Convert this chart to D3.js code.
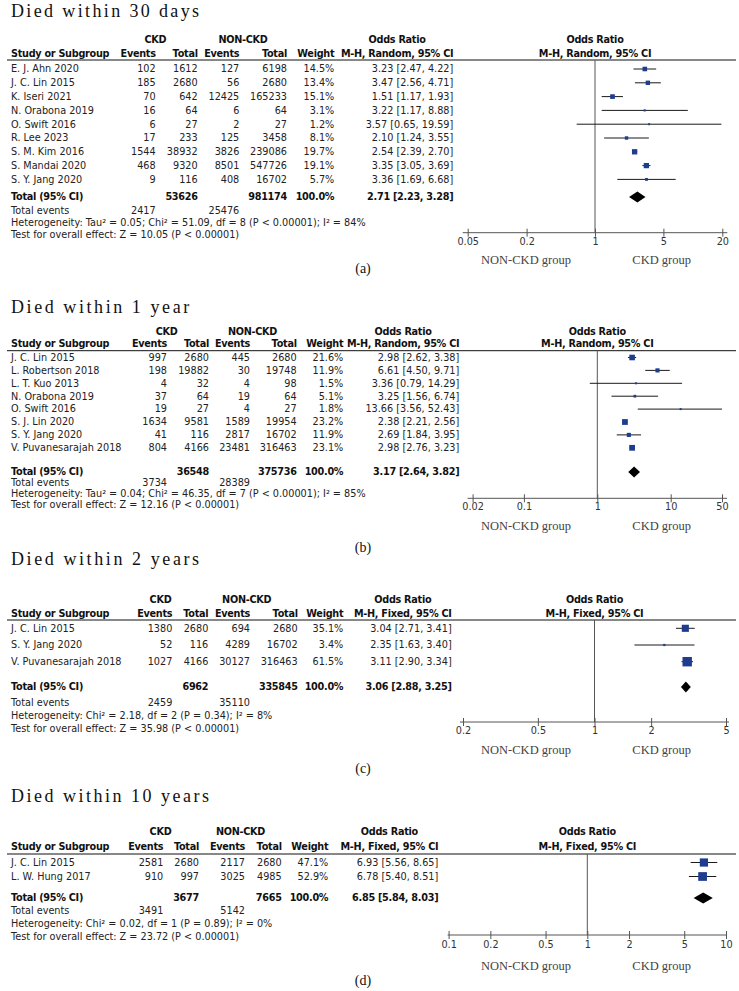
<!DOCTYPE html>
<html lang="en">
<head>
<meta charset="UTF-8">
<title>Forest plots - mortality CKD vs NON-CKD</title>
<script src="https://cdn.jsdelivr.net/npm/d3@7"></script>
<style>
  body { margin: 0; background: #fff; }
  text { fill: #222; }
</style>
</head>
<body>
<svg id="chart"></svg>
<script>
// ---------- data: (a) died within 30 days ----------
var titleA = 'Died within 30 days';
var studiesA = ['E. J. Ahn 2020', 'J. C. Lin 2015', 'K. Iseri 2021', 'N. Orabona 2019', 'O. Swift 2016',
                'R. Lee 2023', 'S. M. Kim 2016', 'S. Mandai 2020', 'S. Y. Jang 2020'];
var ckdEventsA = [102, 185, 70, 16, 6, 17, 1544, 468, 9];
var ckdTotalA = [1612, 2680, 642, 64, 27, 233, 38932, 9320, 116];
var nonEventsA = [127, 56, 12425, 6, 2, 125, 3826, 8501, 408];
var nonTotalA = [6198, 2680, 165233, 64, 27, 3458, 239086, 547726, 16702];
var weightA = [14.5, 13.4, 15.1, 3.1, 1.2, 8.1, 19.7, 19.1, 5.7];
var orA = [3.23, 3.47, 1.51, 3.22, 3.57, 2.10, 2.54, 3.35, 3.36];
var loA = [2.47, 2.56, 1.17, 1.17, 0.65, 1.24, 2.39, 3.05, 1.69];
var hiA = [4.22, 4.71, 1.93, 8.88, 19.59, 3.55, 2.70, 3.69, 6.68];
var totalA = ['53626', '981174', '100.0%'];
var pooledA = [2.71, 2.23, 3.28];
var totalEventsA = ['2417', '25476'];
var hetA = 'Heterogeneity: Tau\u00b2 = 0.05; Chi\u00b2 = 51.09, df = 8 (P < 0.00001); I\u00b2 = 84%';
var testA = 'Test for overall effect: Z = 10.05 (P < 0.00001)';
var ticksA = [0.05, 0.2, 1, 5, 20];

// ---------- data: (b) died within 1 year ----------
var titleB = 'Died within 1 year';
var studiesB = ['J. C. Lin 2015', 'L. Robertson 2018', 'L. T. Kuo 2013', 'N. Orabona 2019', 'O. Swift 2016',
                'S. J. Lin 2020', 'S. Y. Jang 2020', 'V. Puvanesarajah 2018'];
var ckdEventsB = [997, 198, 4, 37, 19, 1634, 41, 804];
var ckdTotalB = [2680, 19882, 32, 64, 27, 9581, 116, 4166];
var nonEventsB = [445, 30, 4, 19, 4, 1589, 2817, 23481];
var nonTotalB = [2680, 19748, 98, 64, 27, 19954, 16702, 316463];
var weightB = [21.6, 11.9, 1.5, 5.1, 1.8, 23.2, 11.9, 23.1];
var orB = [2.98, 6.61, 3.36, 3.25, 13.66, 2.38, 2.69, 2.98];
var loB = [2.62, 4.50, 0.79, 1.56, 3.56, 2.21, 1.84, 2.76];
var hiB = [3.38, 9.71, 14.29, 6.74, 52.43, 2.56, 3.95, 3.23];
var totalB = ['36548', '375736', '100.0%'];
var pooledB = [3.17, 2.64, 3.82];
var totalEventsB = ['3734', '28389'];
var hetB = 'Heterogeneity: Tau\u00b2 = 0.04; Chi\u00b2 = 46.35, df = 7 (P < 0.00001); I\u00b2 = 85%';
var testB = 'Test for overall effect: Z = 12.16 (P < 0.00001)';
var ticksB = [0.02, 0.1, 1, 10, 50];

// ---------- data: (c) died within 2 years ----------
var titleC = 'Died within 2 years';
var studiesC = ['J. C. Lin 2015', 'S. Y. Jang 2020', 'V. Puvanesarajah 2018'];
var ckdEventsC = [1380, 52, 1027];
var ckdTotalC = [2680, 116, 4166];
var nonEventsC = [694, 4289, 30127];
var nonTotalC = [2680, 16702, 316463];
var weightC = [35.1, 3.4, 61.5];
var orC = [3.04, 2.35, 3.11];
var loC = [2.71, 1.63, 2.90];
var hiC = [3.41, 3.40, 3.34];
var totalC = ['6962', '335845', '100.0%'];
var pooledC = [3.06, 2.88, 3.25];
var totalEventsC = ['2459', '35110'];
var hetC = 'Heterogeneity: Chi\u00b2 = 2.18, df = 2 (P = 0.34); I\u00b2 = 8%';
var testC = 'Test for overall effect: Z = 35.98 (P < 0.00001)';
var ticksC = [0.2, 0.5, 1, 2, 5];

// ---------- data: (d) died within 10 years ----------
var titleD = 'Died within 10 years';
var studiesD = ['J. C. Lin 2015', 'L. W. Hung 2017'];
var ckdEventsD = [2581, 910];
var ckdTotalD = [2680, 997];
var nonEventsD = [2117, 3025];
var nonTotalD = [2680, 4985];
var weightD = [47.1, 52.9];
var orD = [6.93, 6.78];
var loD = [5.56, 5.40];
var hiD = [8.65, 8.51];
var totalD = ['3677', '7665', '100.0%'];
var pooledD = [6.85, 5.84, 8.03];
var totalEventsD = ['3491', '5142'];
var hetD = 'Heterogeneity: Chi\u00b2 = 0.02, df = 1 (P = 0.89); I\u00b2 = 0%';
var testD = 'Test for overall effect: Z = 23.72 (P < 0.00001)';
var ticksD = [0.1, 0.2, 0.5, 1, 2, 5, 10];

// ---------- layout ----------
var svg = d3.select('#chart').attr('width', 739).attr('height', 991);
var SANS = 'DejaVu Sans', SERIF = 'Liberation Serif';
var navy = '#1f3d8f';

var layoutA = {titleY: 17, grpY: 40, hdrY: 53.5, lineY: 60, row0: 69, step: 13.8,
    totY: 197, evY: 210.5, hetY: 222.5, testY: 234.5,
    cols: [155.7, 197.7, 239.3, 287, 334.3, 453.3], ckdX: 155.3, nonX: 243,
    x0: 467.7, x1: 722.3, pad: 5, axisY: 232.7, tickY: 241.7, groupY: 260, labelY: 268, method: 'Random'};
var layoutB = {titleY: 313, grpY: 331.5, hdrY: 343.5, lineY: 350.7, row0: 357.5, step: 12.9,
    totY: 472, evY: 482.3, hetY: 493.5, testY: 504.5,
    cols: [167, 209, 250, 296.7, 343.3, 459.3], ckdX: 166.7, nonX: 252.5,
    x0: 472.6, x1: 722, pad: 5, axisY: 498.3, tickY: 506.7, groupY: 525.7, labelY: 546.7, method: 'Random'};
var layoutC = {titleY: 565, grpY: 600, hdrY: 613.5, lineY: 620, row0: 628.3, step: 16.7,
    totY: 687, evY: 703, hetY: 716, testY: 729,
    cols: [172.3, 208.3, 250, 297.7, 343.3, 451.7], ckdX: 160.5, nonX: 246.7,
    x0: 463, x1: 726, pad: 3, axisY: 722, tickY: 731, groupY: 750, labelY: 768, method: 'Fixed'};
var layoutD = {titleY: 801.5, grpY: 831.7, hdrY: 846.5, lineY: 854, row0: 862.5, step: 14,
    totY: 898, evY: 911, hetY: 924, testY: 937,
    cols: [163.3, 199, 245, 281.7, 328.3, 438.3], ckdX: 160.5, nonX: 240.5,
    x0: 448.6, x1: 726, pad: 1, axisY: 935, tickY: 945, groupY: 966, labelY: 980, method: 'Fixed'};

function txt(g, x, y, s, anchor, bold, size, family) {
    var t = g.append('text')
        .attr('x', x).attr('y', y).attr('dy', '0.35em')
        .attr('text-anchor', anchor || 'start')
        .attr('font-family', family || SANS)
        .attr('font-size', size || 9.7)
        .attr('font-weight', bold ? 'bold' : 'normal')
        .text(s);
    if (bold) t.attr('letter-spacing', -0.28).style('fill', '#111');
    return t;
}

function fmtCI(a) { return a[0].toFixed(2) + ' [' + a[1].toFixed(2) + ', ' + a[2].toFixed(2) + ']'; }

function drawPanel(label, title, studies, ckdEv, ckdTot, nonEv, nonTot, weight, or, lo, hi,
                   total, pooled, totEv, het, test, ticks, L) {
    var g = svg.append('g');
    var x = d3.scaleLog().domain([ticks[0], ticks[ticks.length - 1]]).range([L.x0, L.x1]);
    var c = L.cols;

    // title, monospaced look
    g.append('text').attr('x', 11).attr('y', L.titleY)
        .attr('font-family', SERIF).attr('font-size', 18)
        .attr('textLength', title.length * 9.9).attr('lengthAdjust', 'spacing')
        .style('fill', '#111')
        .text(title);

    // table headers
    txt(g, L.ckdX, L.grpY, 'CKD', 'middle', true);
    txt(g, L.nonX, L.grpY, 'NON-CKD', 'middle', true);
    txt(g, 11, L.hdrY, 'Study or Subgroup', 'start', true);
    txt(g, c[0], L.hdrY, 'Events', 'end', true);
    txt(g, c[1], L.hdrY, 'Total', 'end', true);
    txt(g, c[2], L.hdrY, 'Events', 'end', true);
    txt(g, c[3], L.hdrY, 'Total', 'end', true);
    txt(g, c[4], L.hdrY, 'Weight', 'end', true);
    var mh = txt(g, c[5], L.hdrY, 'M-H, ' + L.method + ', 95% CI', 'end', true);
    var mhw = mh.node().getComputedTextLength();
    txt(g, c[5] - mhw / 2, L.grpY, 'Odds Ratio', 'middle', true);
    txt(g, x(1), L.grpY, 'Odds Ratio', 'middle', true);
    txt(g, x(1), L.hdrY, 'M-H, ' + L.method + ', 95% CI', 'middle', true);

    g.append('line').attr('x1', 7).attr('x2', 736).attr('y1', L.lineY).attr('y2', L.lineY)
        .attr('stroke', '#111').attr('stroke-width', 1);

    // study rows
    var y = function(i) { return L.row0 + i * L.step; };
    studies.forEach(function(s, i) {
        txt(g, 11, y(i), s);
        txt(g, c[0], y(i), ckdEv[i], 'end');
        txt(g, c[1], y(i), ckdTot[i], 'end');
        txt(g, c[2], y(i), nonEv[i], 'end');
        txt(g, c[3], y(i), nonTot[i], 'end');
        txt(g, c[4], y(i), weight[i].toFixed(1) + '%', 'end');
        txt(g, c[5], y(i), fmtCI([or[i], lo[i], hi[i]]), 'end');
    });

    // totals
    txt(g, 11, L.totY, 'Total (95% CI)', 'start', true);
    txt(g, c[1], L.totY, total[0], 'end', true);
    txt(g, c[3], L.totY, total[1], 'end', true);
    txt(g, c[4], L.totY, total[2], 'end', true);
    txt(g, c[5], L.totY, fmtCI(pooled), 'end', true);
    txt(g, 11, L.evY, 'Total events');
    txt(g, c[0], L.evY, totEv[0], 'end');
    txt(g, c[2], L.evY, totEv[1], 'end');
    txt(g, 11, L.hetY, het);
    txt(g, 11, L.testY, test);

    // plot: no-effect line
    g.append('line').attr('x1', x(1)).attr('x2', x(1)).attr('y1', L.lineY).attr('y2', L.axisY)
        .attr('stroke', '#555').attr('stroke-width', 1);

    // confidence intervals and weighted squares
    var d0 = x.domain()[0], d1 = x.domain()[1];
    studies.forEach(function(s, i) {
        g.append('line')
            .attr('x1', x(Math.max(lo[i], d0))).attr('x2', x(Math.min(hi[i], d1)))
            .attr('y1', y(i)).attr('y2', y(i))
            .attr('stroke', '#1a1a1a').attr('stroke-width', 1);
        var sz = Math.max(2, 1.2 * Math.sqrt(weight[i]));
        g.append('rect')
            .attr('x', x(or[i]) - sz / 2).attr('y', y(i) - sz / 2)
            .attr('width', sz).attr('height', sz)
            .attr('fill', navy);
    });

    // pooled diamond
    var dh = 5.5;
    g.append('polygon')
        .attr('points', [[x(pooled[1]), L.totY], [x(pooled[0]), L.totY - dh],
                         [x(pooled[2]), L.totY], [x(pooled[0]), L.totY + dh]].join(' '))
        .attr('fill', '#000');

    // axis with ticks crossing the line
    var axis = d3.axisBottom(x).tickValues(ticks).tickFormat(function(v) { return String(v); })
        .tickSize(4).tickSizeOuter(0);
    var ag = g.append('g').attr('transform', 'translate(0,' + L.axisY + ')').call(axis);
    ag.select('.domain').remove();
    ag.append('line').attr('x1', L.x0 - L.pad).attr('x2', L.x1 + L.pad)
        .attr('stroke', '#555').attr('stroke-width', 1);
    ag.selectAll('.tick line').attr('y1', -4).attr('y2', 4).attr('stroke', '#555');
    ag.selectAll('.tick text')
        .attr('y', L.tickY - L.axisY).attr('dy', '0.35em')
        .attr('font-family', SANS).attr('font-size', 9.7).style('fill', '#333');

    // favours labels and panel letter
    txt(g, 526, L.groupY, 'NON-CKD group', 'middle', false, 12.5, SERIF).style('fill', '#444');
    txt(g, 661.7, L.groupY, 'CKD group', 'middle', false, 12.5, SERIF).style('fill', '#444');
    txt(g, 363, L.labelY, '(' + label + ')', 'middle', false, 14, SERIF).style('fill', '#111');
}

drawPanel('a', titleA, studiesA, ckdEventsA, ckdTotalA, nonEventsA, nonTotalA, weightA, orA, loA, hiA,
          totalA, pooledA, totalEventsA, hetA, testA, ticksA, layoutA);
drawPanel('b', titleB, studiesB, ckdEventsB, ckdTotalB, nonEventsB, nonTotalB, weightB, orB, loB, hiB,
          totalB, pooledB, totalEventsB, hetB, testB, ticksB, layoutB);
drawPanel('c', titleC, studiesC, ckdEventsC, ckdTotalC, nonEventsC, nonTotalC, weightC, orC, loC, hiC,
          totalC, pooledC, totalEventsC, hetC, testC, ticksC, layoutC);
drawPanel('d', titleD, studiesD, ckdEventsD, ckdTotalD, nonEventsD, nonTotalD, weightD, orD, loD, hiD,
          totalD, pooledD, totalEventsD, hetD, testD, ticksD, layoutD);
</script>
</body>
</html>
